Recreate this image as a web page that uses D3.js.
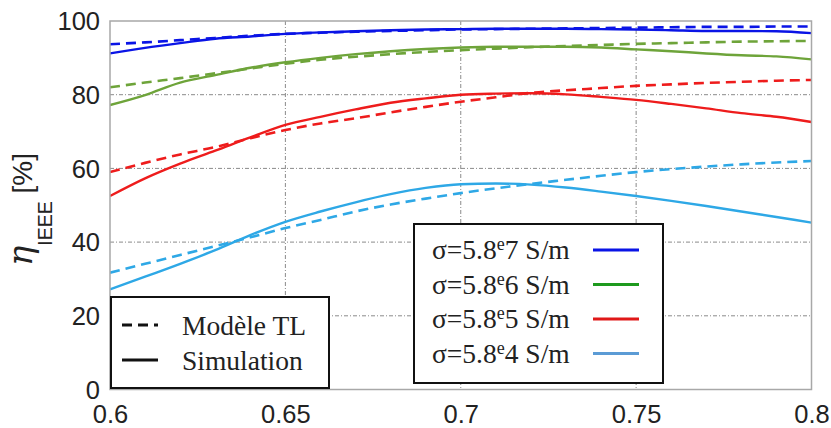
<!DOCTYPE html>
<html><head><meta charset="utf-8">
<script src="https://cdn.jsdelivr.net/npm/d3@7"></script>
<style>body{margin:0;background:#fff}svg{display:block}</style>
</head><body>
<svg id="c" width="831" height="428"></svg>
<script>
const freq = [0.60,0.61,0.62,0.63,0.64,0.65,0.66,0.67,0.68,0.69,0.70,0.71,0.72,0.73,0.74,0.75,0.76,0.77,0.78,0.79,0.80];
const xTicks = [0.6,0.65,0.7,0.75,0.8];
const xTickLabels = ["0.6","0.65","0.7","0.75","0.8"];
const yTicks = [0,20,40,60,80,100];
const yTickLabels = ["0","20","40","60","80","100"];
const seriesNames = ["5.8e7","5.8e6","5.8e5","5.8e4"];
const tl_e7 = [93.7,94.2,94.8,95.4,96.0,96.5,96.8,97.1,97.3,97.5,97.7,97.8,97.9,98.0,98.1,98.2,98.3,98.4,98.4,98.5,98.5];
const sim_e7 = [91.2,92.7,94.0,95.2,95.8,96.5,96.9,97.2,97.5,97.7,97.8,97.9,97.9,97.9,97.8,97.7,97.5,97.3,97.3,97.2,96.7];
const tl_e6 = [82.0,83.3,84.5,85.8,87.1,88.4,89.5,90.3,91.0,91.6,92.1,92.5,92.9,93.2,93.5,93.8,94.0,94.2,94.4,94.5,94.6];
const sim_e6 = [77.2,79.9,83.3,85.3,87.3,88.8,90.0,91.0,91.8,92.4,92.8,93.0,93.0,93.0,92.8,92.3,91.8,91.2,90.7,90.4,89.6];
const tl_e5 = [59.0,61.5,63.8,65.8,68.2,70.4,72.2,73.6,75.2,76.7,78.1,79.3,80.5,81.2,81.8,82.4,82.8,83.2,83.5,83.8,84.0];
const sim_e5 = [52.5,57.3,61.3,64.8,68.4,71.8,74.0,76.0,77.8,79.0,80.0,80.3,80.4,80.1,79.4,78.6,77.5,76.3,75.0,74.0,72.6];
const tl_e4 = [31.7,34.1,36.5,38.9,41.3,43.8,46.0,48.3,50.2,51.8,53.3,54.6,55.8,56.9,58.0,59.0,59.8,60.5,61.1,61.6,62.0];
const sim_e4 = [27.2,30.6,34.1,37.8,41.9,45.5,48.3,50.8,53.0,54.7,55.7,55.9,55.6,54.8,53.7,52.5,51.2,49.8,48.3,46.8,45.3];

const curveColors = ["#0a14e6","#6ea43a","#ee1c1c","#2ea8e6"];
const legendColors = ["#0a14e6","#1e9a1e","#e01818","#5b9bd5"];
const tlSeries = [tl_e7, tl_e6, tl_e5, tl_e4];
const simSeries = [sim_e7, sim_e6, sim_e5, sim_e4];

const svg = d3.select("#c");
const L=110, R=811.5, T=21, B=389.5;
const x = d3.scaleLinear().domain([0.6,0.8]).range([L,R]);
const y = d3.scaleLinear().domain([0,100]).range([B,T]);
const sans = "'Liberation Sans',Arial,sans-serif";
const serif = "'Liberation Serif','Times New Roman',serif";

// grid
const grid = svg.append("g");
grid.selectAll("line.v").data(xTicks.slice(1,-1)).enter().append("line")
  .attr("x1",d=>x(d)).attr("x2",d=>x(d)).attr("y1",T).attr("y2",B)
  .attr("stroke","#8a8a8a").attr("stroke-width",1).attr("stroke-dasharray","4,2,1,2");
grid.selectAll("line.h").data(yTicks.slice(1,-1)).enter().append("line")
  .attr("x1",L).attr("x2",R).attr("y1",d=>y(d)).attr("y2",d=>y(d))
  .attr("stroke","#8a8a8a").attr("stroke-width",1).attr("stroke-dasharray","4,2,1,2");

// axes (labels only)
const xAxis = d3.axisBottom(x).tickValues(xTicks).tickSize(0).tickPadding(0)
  .tickFormat((d,i)=>xTickLabels[i]);
const gx = svg.append("g").attr("transform",`translate(0,${B})`).call(xAxis);
gx.select(".domain").remove();
gx.selectAll("text").attr("font-family",sans).attr("font-size",25.5)
  .attr("fill","#222").attr("dy",null).attr("y",33);

const yAxis = d3.axisLeft(y).tickValues(yTicks).tickSize(0).tickPadding(10)
  .tickFormat((d,i)=>yTickLabels[i]);
const gy = svg.append("g").attr("transform",`translate(${L},0)`).call(yAxis);
gy.select(".domain").remove();
gy.selectAll("text").attr("font-family",sans).attr("font-size",25.5)
  .attr("fill","#222").attr("dy","0.34em");

// curves
svg.append("clipPath").attr("id","pc").append("rect")
  .attr("x",L).attr("y",T-2).attr("width",R-L).attr("height",B-T+2);
const line = d3.line().x((d,i)=>x(freq[i])).y(d=>y(d)).curve(d3.curveMonotoneX);
const cg = svg.append("g").attr("clip-path","url(#pc)");
simSeries.forEach((s,k)=>{
  cg.append("path").attr("d",line(s)).attr("fill","none")
    .attr("stroke",curveColors[k]).attr("stroke-width",2.4);
});
tlSeries.forEach((s,k)=>{
  cg.append("path").attr("d",line(s)).attr("fill","none")
    .attr("stroke",curveColors[k]).attr("stroke-width",2.6).attr("stroke-dasharray","10,6");
});

// frame
svg.append("rect").attr("x",L).attr("y",T).attr("width",R-L).attr("height",B-T)
  .attr("fill","none").attr("stroke","#a8a8a8").attr("stroke-width",1.5);

// y label
const yl = svg.append("text").attr("transform","translate(32,266) rotate(-90)")
  .attr("fill","#222");
yl.append("tspan").text("η").attr("font-family","'DejaVu Serif',serif").attr("font-style","italic").attr("font-size",34);
yl.append("tspan").text("IEEE").attr("font-family",sans).attr("font-size",19.5).attr("dy",20);
yl.append("tspan").text(" [%]").attr("font-family",sans).attr("font-size",28).attr("dy",-20);

// legend 1 (line styles)
const l1 = svg.append("g");
l1.append("rect").attr("x",111).attr("y",297).attr("width",218).attr("height",91)
  .attr("fill","#fff").attr("stroke","#111").attr("stroke-width",2);
const l1Items = [{t:"Modèle TL",dash:"10,6",yy:325},{t:"Simulation",dash:null,yy:360}];
l1Items.forEach(it=>{
  l1.append("line").attr("x1",122).attr("x2",158).attr("y1",it.yy).attr("y2",it.yy)
    .attr("stroke","#111").attr("stroke-width",2.8).attr("stroke-dasharray",it.dash);
  l1.append("text").attr("x",182).attr("y",it.yy+10).text(it.t)
    .attr("font-family",serif).attr("font-size",27.5).attr("fill","#222");
});

// legend 2 (colors)
const l2 = svg.append("g");
l2.append("rect").attr("x",414).attr("y",224).attr("width",249).attr("height",159)
  .attr("fill","#fff").attr("stroke","#111").attr("stroke-width",2);
seriesNames.forEach((n,k)=>{
  const yy = 250 + k*34.5;
  const [m,e] = n.split("e");
  const t = l2.append("text").attr("x",432).attr("y",yy+9)
    .attr("font-family",serif).attr("font-size",27.5).attr("fill","#222");
  t.append("tspan").text("σ="+m);
  t.append("tspan").text("e").attr("font-size",18).attr("dy",-9);
  t.append("tspan").text(e+" S/m").attr("dy",9);
  l2.append("line").attr("x1",593).attr("x2",639).attr("y1",yy).attr("y2",yy)
    .attr("stroke",legendColors[k]).attr("stroke-width",3);
});
</script>
</body></html>
